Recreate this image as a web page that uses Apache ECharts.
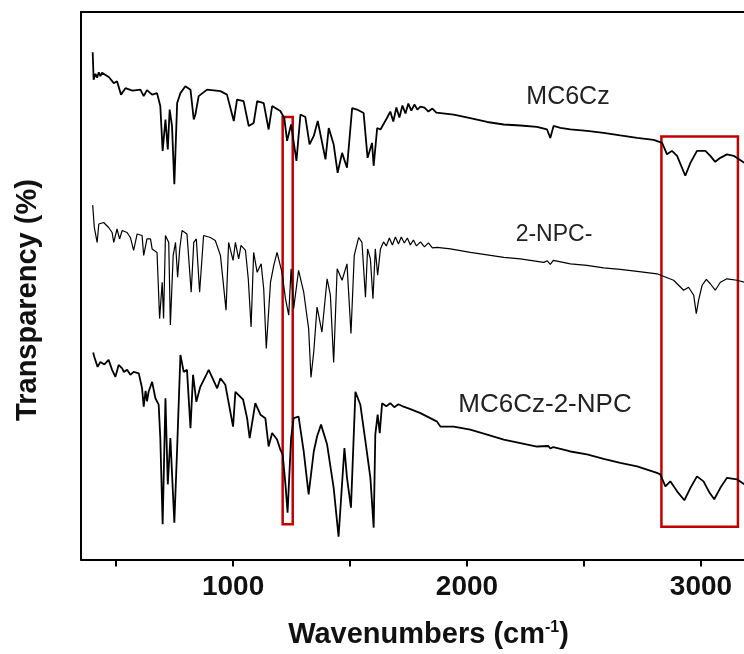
<!DOCTYPE html>
<html>
<head>
<meta charset="utf-8">
<script src="https://cdn.jsdelivr.net/npm/echarts@6/dist/echarts.min.js"></script>
<style>html,body{margin:0;padding:0;background:#fff}#c{width:744px;height:654px}</style>
</head>
<body>
<div id="c"></div>
<script>
// x-axis ticks / labels
const tickValues = [500, 1000, 1500, 2000, 2500, 3000];
const labelValues = [1000, 2000, 3000];
const seriesNames = ['MC6Cz', '2-NPC-', 'MC6Cz-2-NPC'];

// [wavenumber, transparency (a.u.)]
const mc6czData = [
[400,101.9],[404,96.4],[412,97.6],[419,96.8],[426,97.9],[433,97.1],[440,97.8],[447,97.4],[470,96.9],[490,95.7],[504,96.1],[521,93.4],[540,94.7],[570,94.2],[604,94.4],
[618,93.1],[632,94.3],[654,93.4],[675,93.7],[689,91.1],[699,82.1],[711,88.4],[721,82.4],[729,90.4],[739,87.1],
[749,75.4],[761,91.7],[775,93.7],[796,95.1],[818,94.4],[832,88.4],[839,89.4],[853,93.1],[889,94.4],[946,94.1],
[974,93.4],[1003,88.1],[1017,92.4],[1045,92.1],[1067,87.1],[1088,87.7],[1103,92.1],[1131,91.7],[1152,86.4],[1167,91.1],
[1202,90.1],[1219,88.7],[1231,84.1],[1248,87.4],[1271,80.1],[1288,89.4],[1309,88.9],[1327,83.4],[1345,85.1],[1362,88.1],
[1395,80.4],[1409,86.7],[1430,83.4],[1447,77.7],[1466,81.7],[1487,78.7],[1509,90.7],[1530,90.4],[1558,89.7],[1575,80.7],
[1594,83.7],[1601,79.1],[1616,86.7],[1630,86.4],[1658,88.7],[1672,90.0],[1685,88.0],[1698,90.8],[1711,88.8],[1724,91.2],
[1737,89.6],[1749,91.6],[1762,90.2],[1775,91.4],[1788,90.4],[1801,91.0],[1818,90.8],[1835,90.0],[1852,90.6],[1869,89.8],
[1943,89.4],[2014,88.7],[2086,87.9],[2157,87.4],[2228,87.2],[2299,86.9],[2342,86.4],[2356,84.7],[2370,87.1],[2399,86.7],
[2442,86.4],[2513,86.1],[2584,85.7],[2655,85.2],[2727,84.7],[2798,84.3],[2834,83.7],[2855,81.4],[2876,82.1],[2898,81.1],
[2933,77.1],[2955,79.7],[2983,82.1],[3019,82.1],[3040,81.1],[3061,79.9],[3083,80.7],[3111,81.4],[3140,81.1],[3185,79.7]
];

const npcData = [
[400,71.2],[407,66.7],[419,63.7],[426,67.4],[447,67.7],[468,66.7],[483,65.7],[490,63.7],[504,66.4],[515,64.4],
[526,66.1],[547,65.7],[561,64.7],[575,62.1],[590,65.4],[611,65.1],[618,61.1],[632,64.4],[647,64.4],[654,62.4],
[675,61.7],[686,48.4],[697,55.7],[703,48.4],[711,65.1],[725,63.7],[732,47.1],[744,61.1],[754,63.7],[763,56.7],
[772,62.4],[782,66.1],[803,65.4],[821,53.7],[832,63.7],[843,64.4],[857,53.7],[874,65.1],[903,64.7],[924,64.1],
[946,61.1],[970,50.1],[981,63.7],[1000,60.1],[1010,63.7],[1024,60.4],[1034,63.1],[1053,62.1],[1065,56.4],[1077,46.7],
[1088,61.7],[1103,57.7],[1120,59.4],[1131,54.4],[1142,42.4],[1160,55.7],[1174,59.1],[1188,61.7],[1209,57.7],[1224,52.4],
[1238,49.1],[1248,58.4],[1259,50.4],[1280,58.1],[1302,53.7],[1323,46.4],[1333,36.6],[1345,41.8],[1359,50.7],[1380,45.7],
[1402,56.4],[1416,53.1],[1430,39.6],[1445,58.4],[1466,56.1],[1487,59.4],[1504,45.4],[1518,61.1],[1537,64.7],[1551,63.7],
[1566,52.7],[1575,62.4],[1587,60.4],[1598,52.4],[1608,62.4],[1618,57.1],[1630,62.4],[1643,63.8],[1655,63.0],[1668,64.6],
[1681,63.2],[1694,64.8],[1707,63.4],[1719,64.8],[1732,63.6],[1745,64.6],[1758,63.2],[1771,64.2],[1784,63.0],[1801,63.8],
[1818,62.8],[1835,63.6],[1852,62.6],[1872,62.7],[1929,62.4],[2014,61.7],[2086,61.2],[2157,60.7],[2228,60.4],[2328,59.7],
[2343,60.0],[2356,59.3],[2369,60.1],[2442,59.4],[2513,59.1],[2584,58.6],[2655,58.3],[2727,57.9],[2812,57.4],[2883,56.1],
[2926,54.1],[2947,54.7],[2969,53.1],[2980,49.4],[2990,52.1],[3005,55.1],[3023,56.3],[3040,55.4],[3061,54.1],[3083,55.7],
[3111,56.4],[3154,56.1],[3185,55.7]
];

const blendData = [
[402,41.6],[407,40.7],[421,38.7],[433,39.7],[450,39.2],[468,40.1],[483,38.1],[497,36.7],[511,39.1],[526,38.4],[533,37.7],
[547,38.1],[561,37.1],[575,37.7],[597,37.4],[611,34.4],[618,30.7],[626,33.9],[632,31.8],[639,33.7],[654,35.7],[668,32.4],[682,31.1],
[689,24.4],[699,7.1],[711,32.4],[721,15.1],[732,24.4],[749,7.4],[761,22.4],[775,41.1],[789,37.7],[803,38.1],
[818,26.4],[829,37.1],[843,31.7],[860,34.7],[896,38.1],[932,34.4],[946,36.4],[967,35.1],[1000,26.7],[1010,33.7],
[1043,32.1],[1060,28.4],[1071,24.4],[1095,31.4],[1117,29.1],[1138,28.4],[1152,22.7],[1167,25.4],[1188,24.1],[1202,22.1],
[1212,21.1],[1224,15.1],[1233,9.4],[1248,24.4],[1259,28.4],[1280,28.7],[1302,21.7],[1323,13.1],[1345,21.7],[1359,24.7],
[1376,27.1],[1402,23.1],[1430,14.4],[1451,4.6],[1476,22.4],[1487,16.4],[1504,10.4],[1523,33.7],[1544,31.1],[1566,23.7],
[1587,16.4],[1601,6.4],[1608,25.1],[1618,29.1],[1627,25.4],[1637,31.4],[1655,30.8],[1672,31.4],[1689,30.6],[1707,31.2],
[1729,30.7],[1758,30.2],[1801,29.4],[1872,27.7],[1886,26.7],[1943,26.7],[2014,26.1],[2086,25.1],[2157,24.1],[2228,23.4],
[2299,22.7],[2348,22.8],[2356,22.3],[2369,22.6],[2442,21.7],[2513,21.1],[2584,20.2],[2655,19.4],[2727,18.7],[2812,17.4],
[2826,17.1],[2848,14.7],[2869,15.7],[2898,13.7],[2929,11.9],[2955,14.4],[2983,16.7],[3011,15.7],[3037,13.4],[3057,12.1],
[3083,14.4],[3111,16.4],[3154,16.1],[3185,15.1]
];

// highlight boxes: [xFrom, xTo, yFrom, yTo]
const redBoxes = [[1212, 1255, 7.1, 88.9], [2831, 3158, 6.6, 85.0]];

const FONT = '"Liberation Sans", Arial, sans-serif';
const chart = echarts.init(document.getElementById('c'), null, {renderer: 'canvas'});

const lineSeries = (name, data, w, extra) => Object.assign({
  name, type: 'line', data, showSymbol: false, symbol: 'none', animation: false,
  lineStyle: {color: '#000', width: w}, silent: true
}, extra || {});

chart.setOption({
  animation: false,
  backgroundColor: '#fff',
  grid: {left: 81, right: 0, top: 12, bottom: 92},
  xAxis: [{
    type: 'value', min: 350, max: 3184, position: 'bottom',
    axisLine: {show: true, lineStyle: {color: '#000', width: 2}},
    axisTick: {show: true, length: 7, inside: false, lineStyle: {color: '#000', width: 2}, customValues: tickValues},
    axisLabel: {show: true, customValues: labelValues, formatter: v => String(v), color: '#111', fontFamily: FONT, fontWeight: 'bold', fontSize: 28, margin: 14},
    splitLine: {show: false},
    name: '{a|Wavenumbers (cm}{s|-1}{a|)}', nameLocation: 'middle', nameGap: 60,
    nameTextStyle: {padding: [0, 0, 0, 32], rich: {
      a: {fontFamily: FONT, fontWeight: 'bold', fontSize: 29, color: '#111'},
      s: {fontFamily: FONT, fontWeight: 'bold', fontSize: 16, color: '#111', verticalAlign: 'top', padding: [0, 0, 14, 0]}
    }}
  }, {
    type: 'value', min: 350, max: 3184, position: 'top',
    axisLine: {show: true, onZero: false, lineStyle: {color: '#000', width: 2}},
    axisTick: {show: false}, axisLabel: {show: false}, splitLine: {show: false}
  }],
  yAxis: {
    type: 'value', min: 0, max: 110,
    axisLine: {show: true, lineStyle: {color: '#000', width: 2}},
    axisTick: {show: false}, axisLabel: {show: false}, splitLine: {show: false}
  },
  series: [
    lineSeries(seriesNames[0], mc6czData, 1.8),
    lineSeries(seriesNames[1], npcData, 1.2),
    lineSeries(seriesNames[2], blendData, 1.8, {
      markArea: {
        silent: true,
        itemStyle: {color: 'rgba(0,0,0,0)', borderColor: '#c00000', borderWidth: 2.5},
        data: redBoxes.map(b => [{coord: [b[0], b[3]]}, {coord: [b[1], b[2]]}])
      }
    })
  ],
  graphic: [
    {type: 'text', x: 568, y: 97, style: {text: seriesNames[0], fontFamily: FONT, fontSize: 25, fill: '#222', textAlign: 'center', textVerticalAlign: 'middle'}},
    {type: 'text', x: 554, y: 235, style: {text: seriesNames[1], fontFamily: FONT, fontSize: 23, fill: '#222', textAlign: 'center', textVerticalAlign: 'middle'}},
    {type: 'text', x: 545, y: 405, style: {text: seriesNames[2], fontFamily: FONT, fontSize: 26, fill: '#222', textAlign: 'center', textVerticalAlign: 'middle'}},
    {type: 'text', x: 28, y: 300, rotation: Math.PI / 2, style: {text: 'Transparency (%)', fontFamily: FONT, fontWeight: 'bold', fontSize: 29, fill: '#111', textAlign: 'center', textVerticalAlign: 'middle'}}
  ]
});
</script>
</body>
</html>
